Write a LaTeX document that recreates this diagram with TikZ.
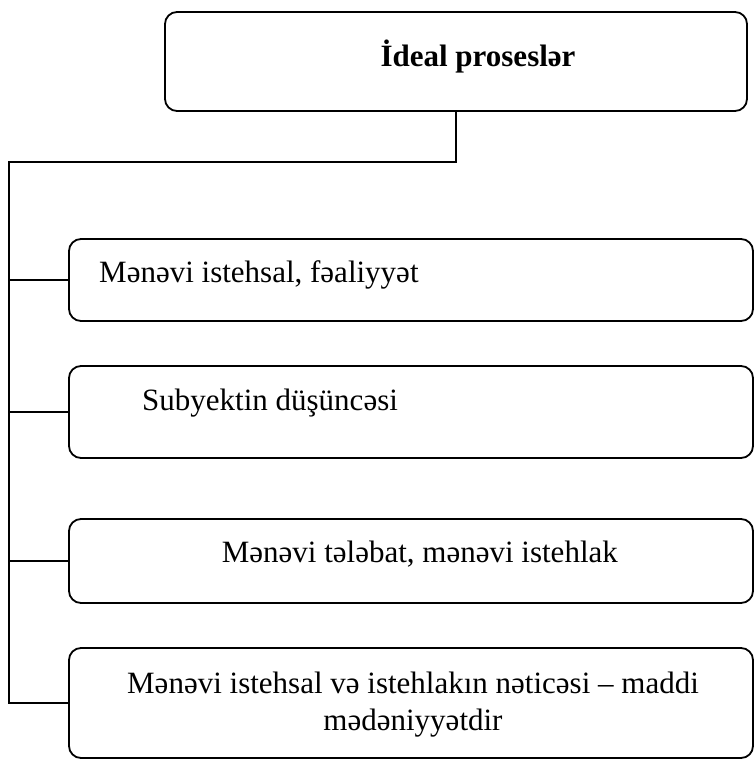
\documentclass[tikz,border=0pt]{standalone}
\usepackage{fontspec}
\setmainfont{Liberation Serif}
\tikzset{
    pbox/.style={draw, line width=1.8pt, rounded corners=12pt, inner sep=0pt},
    link/.style={line width=1.6pt},
    ptext/.style={font=\fontsize{31}{37}\selectfont, inner sep=0pt}
}
\begin{document}
\begin{tikzpicture}[x=1pt,y=-1pt]
    \useasboundingbox (0,0) rectangle (755,759);

    % Boxes
    \node[pbox, minimum width=582pt, minimum height=99pt] (top) at (456,61.5) {};
    \node[pbox, minimum width=684pt, minimum height=82pt] (b1) at (411,280) {};
    \node[pbox, minimum width=684pt, minimum height=92pt] (b2) at (411,412) {};
    \node[pbox, minimum width=684pt, minimum height=84pt] (b3) at (411,561) {};
    \node[pbox, minimum width=684pt, minimum height=110pt] (b4) at (411,703) {};

    % Labels
    \node[ptext, font=\fontsize{31}{37}\selectfont\bfseries, anchor=base] (ttop) at (478,67) {İdeal proseslər};
    \node[ptext, anchor=base west] (t1) at (99,282) {Mənəvi istehsal, fəaliyyət};
    \node[ptext, anchor=base west] (t2) at (142,410) {Subyektin düşüncəsi};
    \node[ptext, anchor=base east] (t3) at (618,562) {Mənəvi tələbat, mənəvi istehlak};
    \node[ptext, anchor=base, align=center] (t4) at (413,730) {Mənəvi istehsal və istehlakın nəticəsi – maddi\\ mədəniyyətdir};

    % Tree lines
    \coordinate (corner) at (9,162);
    \draw[link] (top.south) |- (corner) -- (corner |- b4.west) -- (b4.west);
    \draw[link] (corner |- b1.west) -- (b1.west);
    \draw[link] (corner |- b2.west) -- (b2.west);
    \draw[link] (corner |- b3.west) -- (b3.west);
\end{tikzpicture}
\end{document}
